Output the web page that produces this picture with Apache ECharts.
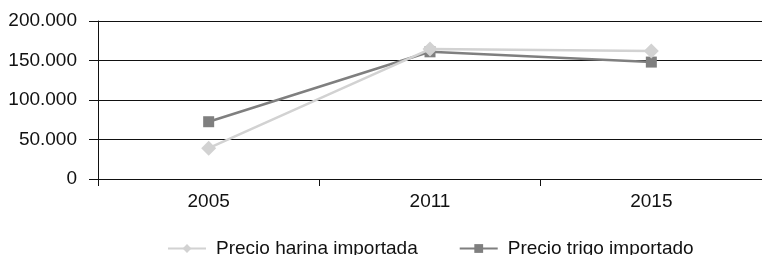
<!DOCTYPE html>
<html>
<head>
<meta charset="utf-8">
<script src="https://cdn.jsdelivr.net/npm/echarts@6/dist/echarts.min.js"></script>
<style>
    html, body { margin: 0; padding: 0; background: #ffffff; }
    #chart { width: 762px; height: 255px; }
</style>
</head>
<body>
<div id="chart"></div>
<script>
    // datos
    var years = ['2005', '2011', '2015'];
    var harina = [39000, 164500, 162000];
    var trigo = [72500, 161000, 148000];
    var yTicks = [0, 50000, 100000, 150000, 200000];

    var nameHarina = 'Precio harina importada';
    var nameTrigo = 'Precio trigo importado';

    function fmt(v) {
        if (v === 0) return '0';
        var s = String(v);
        return s.slice(0, s.length - 3) + '.' + s.slice(-3);
    }

    var chart = echarts.init(document.getElementById('chart'));
    chart.setOption({
        animation: false,
        textStyle: { fontFamily: 'Liberation Sans, Arial, sans-serif' },
        grid: { left: 98, right: -4, top: 21, bottom: 76, containLabel: false },
        legend: {
            data: [nameHarina, nameTrigo],
            left: 162,
            top: 234,
            itemWidth: 38,
            itemHeight: 11,
            itemGap: 41,
            textStyle: {
                fontSize: 19,
                color: '#111',
                padding: [0, 0, 0, 5]
            }
        },
        xAxis: {
            type: 'category',
            data: years,
            boundaryGap: true,
            axisLine: { lineStyle: { color: '#111', width: 1 } },
            axisTick: { show: true, length: 7, lineStyle: { color: '#111' } },
            axisLabel: { color: '#111', fontSize: 19, margin: 13 },
            splitLine: { show: false }
        },
        yAxis: {
            type: 'value',
            min: yTicks[0],
            max: yTicks[yTicks.length - 1],
            interval: 50000,
            axisLine: { show: true, lineStyle: { color: '#111', width: 1 } },
            axisTick: { show: true, length: 9, lineStyle: { color: '#111' } },
            axisLabel: { color: '#111', fontSize: 19, margin: 21, formatter: fmt },
            splitLine: { show: true, lineStyle: { color: '#111', width: 1 } }
        },
        series: [
            {
                name: nameTrigo,
                type: 'line',
                data: trigo,
                symbol: 'rect',
                symbolSize: 11,
                lineStyle: { color: '#7f7f7f', width: 2.5 },
                itemStyle: { color: '#7f7f7f' },
                z: 2
            },
            {
                name: nameHarina,
                type: 'line',
                data: harina,
                symbol: 'diamond',
                symbolSize: 15,
                lineStyle: { color: '#d2d2d2', width: 2.5 },
                itemStyle: { color: '#d2d2d2' },
                z: 3
            }
        ]
    });
</script>
</body>
</html>
